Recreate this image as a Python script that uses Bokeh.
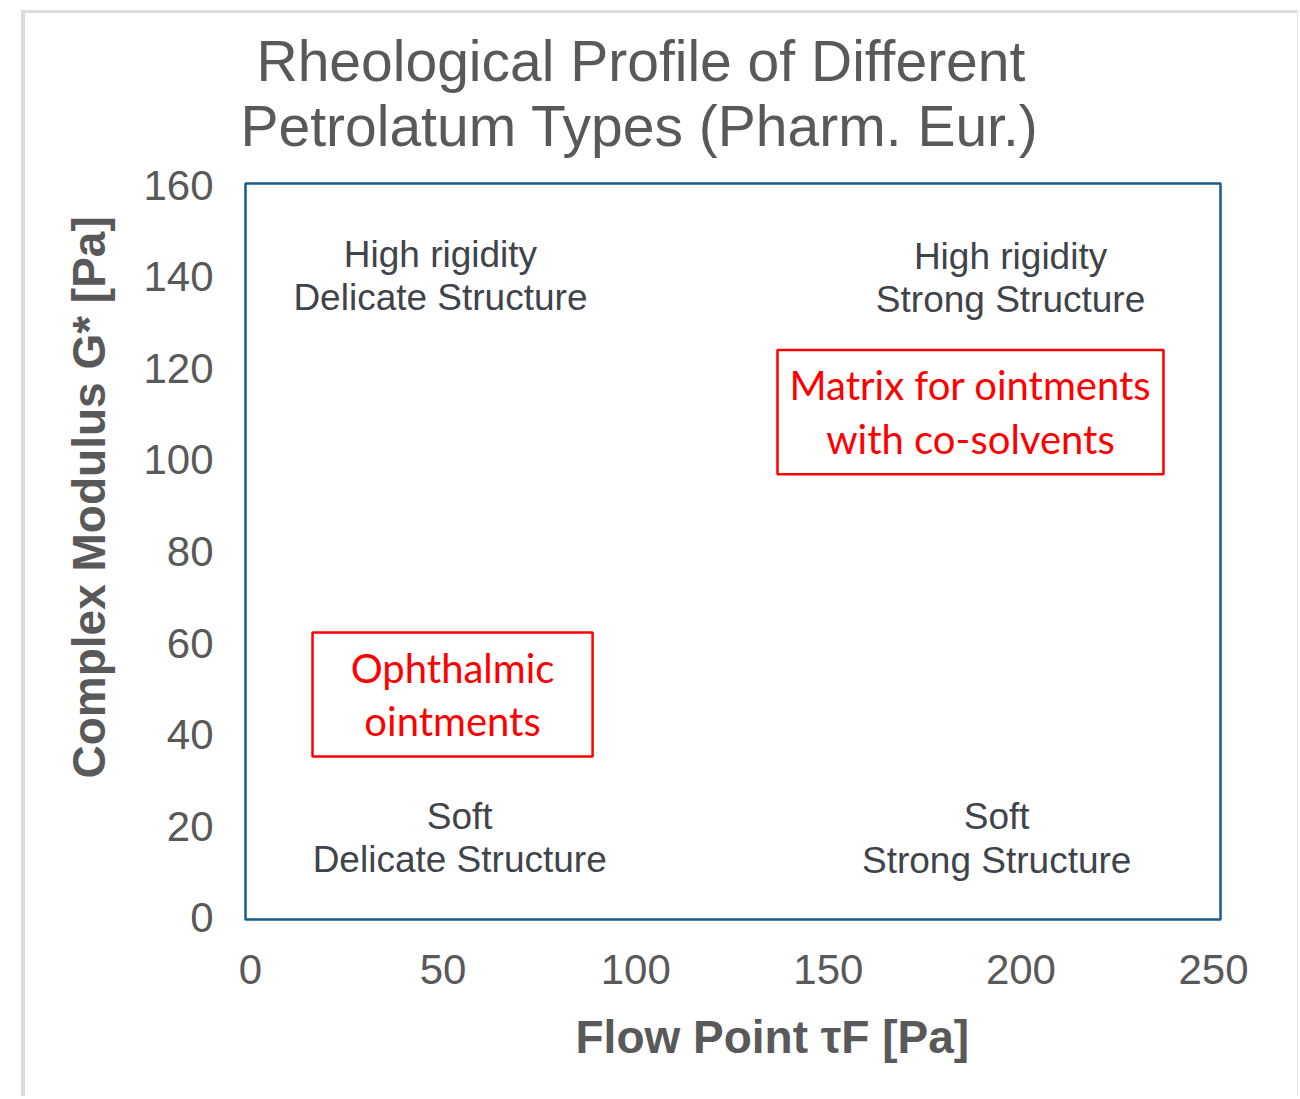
from bokeh.plotting import figure
from bokeh.models import Range1d, FixedTicker, Title, ColumnDataSource
from bokeh.core.properties import value
from bokeh.embed import file_html
from bokeh.resources import INLINE

# ---------------- data ----------------
title_lines = ["Rheological Profile of Different", "Petrolatum Types (Pharm. Eur.)"]
x_label = "Flow Point τF [Pa]"
y_label = "Complex Modulus  G* [Pa]"
x_ticks = [0, 50, 100, 150, 200, 250]
y_ticks = [0, 20, 40, 60, 80, 100, 120, 140, 160]

quadrant_labels = ["High rigidity\nDelicate Structure", "High rigidity\nStrong Structure",
                   "Soft\nDelicate Structure", "Soft\nStrong Structure"]
quadrant_flow = [49.3, 197.3, 54.3, 193.7]
quadrant_modulus = [140.2, 139.7, 17.4, 17.3]

application_labels = ["Matrix for ointments\nwith co-solvents", "Ophthalmic\nointments"]
app_flow_min = [136.8, 16.1]
app_flow_max = [237.0, 88.8]
app_modulus_min = [96.9, 35.2]
app_modulus_max = [124.0, 62.3]

# ---------------- figure ----------------
OX, OY = 25, 13           # where the canvas starts on the page
W, H = 1277, 1086
p = figure(width=W, height=H, output_backend="svg", toolbar_location=None,
           x_range=Range1d(-1.3, 251.8), y_range=Range1d(-0.4, 160.4),
           min_border_left=245 - OX, min_border_right=W - (1220 - OX),
           min_border_top=183 - OY, min_border_bottom=H - (919 - OY))
p.styles = {"margin": "10px 0px 0px 21px",
            "border-left": "4px solid #dcdcdc",
            "border-top": "3px solid #dcdcdc",
            "border-right": "1px solid #e6e6e6"}
p.background_fill_color = "white"
p.border_fill_color = "white"
p.grid.visible = False
p.outline_line_color = "#1a5b8c"
p.outline_line_width = 2.5

for ax in (p.xaxis[0], p.yaxis[0]):
    ax.axis_line_color = None
    ax.major_tick_line_color = None
    ax.minor_tick_line_color = None
    ax.major_tick_out = 0
    ax.major_tick_in = 0
    ax.major_label_text_font = "Liberation Sans"
    ax.major_label_text_font_size = "42px"
    ax.major_label_text_color = "#595959"
p.xaxis.ticker = FixedTicker(ticks=x_ticks)
p.yaxis.ticker = FixedTicker(ticks=y_ticks)
p.xaxis.major_label_standoff = 35
p.yaxis.major_label_standoff = 32

# title: p.title is the outer line, the added Title sits next to the frame
p.title.text = title_lines[0]
p.title.align = "left"
p.title.offset = 11
p.title.standoff = -52
p.title.text_font = "Liberation Sans"
p.title.text_font_size = "57px"
p.title.text_font_style = "normal"
p.title.text_color = "#595959"
p.add_layout(Title(text=title_lines[1], align="left", offset=-5, standoff=51,
                   text_font="Liberation Sans", text_font_size="57px",
                   text_font_style="normal", text_color="#595959"), "above")

# axis labels as side titles (positioned off-centre like the reference)
p.add_layout(Title(text=y_label, align="left", offset=141, standoff=52,
                   text_font="Liberation Sans", text_font_size="46px",
                   text_font_style="bold", text_color="#595959"), "left")
p.add_layout(Title(text=x_label, align="left", offset=330, standoff=44,
                   text_font="Liberation Sans", text_font_size="46px",
                   text_font_style="bold", text_color="#595959"), "below")

# quadrant texts
qsrc = ColumnDataSource(dict(x=quadrant_flow, y=quadrant_modulus, text=quadrant_labels))
p.text(x="x", y="y", text="text", source=qsrc, text_align="center", text_baseline="middle",
       text_font=value("Liberation Sans"), text_font_size="37px", text_color="#3f444b",
       text_line_height=1.06)

# application boxes
asrc = ColumnDataSource(dict(
    left=app_flow_min, right=app_flow_max, bottom=app_modulus_min, top=app_modulus_max,
    cx=[(a + b) / 2 for a, b in zip(app_flow_min, app_flow_max)],
    cy=[(a + b) / 2 for a, b in zip(app_modulus_min, app_modulus_max)],
    text=application_labels))
p.quad(left="left", right="right", bottom="bottom", top="top", source=asrc,
       fill_color=None, line_color="#ff0000", line_width=2.5)
p.text(x="cx", y="cy", text="text", source=asrc, text_align="center", text_baseline="middle",
       text_font=value("Lato"), text_font_size="40px", text_color="#ff0000",
       text_line_height=1.12)

open("out.html", "w").write(file_html(p, INLINE))
